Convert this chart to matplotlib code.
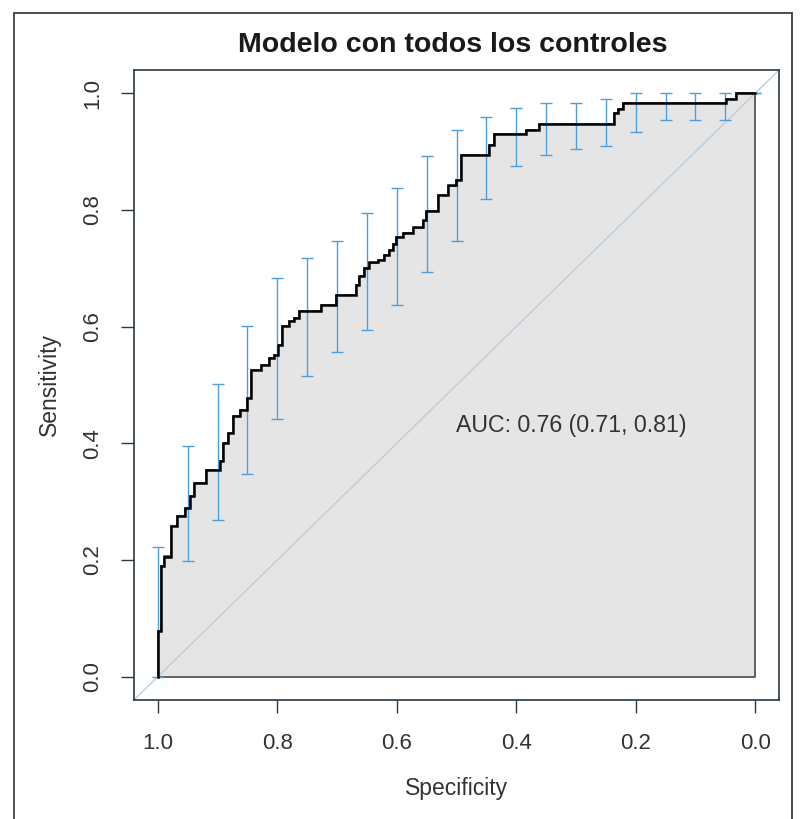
import matplotlib
matplotlib.use("Agg")
import matplotlib.pyplot as plt
from matplotlib.patches import Rectangle

plt.rcParams['font.family'] = ['Liberation Sans', 'DejaVu Sans']

# ROC staircase: specificity where each rise happens and sensitivity after it
roc_spec = [1.000, 1.000, 0.995, 0.990, 0.978, 0.968, 0.955, 0.946, 0.940, 0.920,
            0.896, 0.891, 0.883, 0.874, 0.863, 0.851, 0.844, 0.827, 0.814, 0.806,
            0.799, 0.792, 0.781, 0.772, 0.764, 0.727, 0.702, 0.668, 0.663, 0.655,
            0.647, 0.631, 0.621, 0.613, 0.606, 0.601, 0.590, 0.573, 0.556, 0.551,
            0.531, 0.514, 0.501, 0.492, 0.446, 0.437, 0.384, 0.362, 0.236, 0.229,
            0.221, 0.049, 0.032, 0.000]
roc_sens = [0.000, 0.079, 0.189, 0.206, 0.258, 0.275, 0.290, 0.309, 0.332, 0.354,
            0.369, 0.400, 0.418, 0.447, 0.457, 0.478, 0.526, 0.534, 0.546, 0.552,
            0.569, 0.601, 0.610, 0.615, 0.627, 0.637, 0.655, 0.672, 0.687, 0.701,
            0.710, 0.715, 0.723, 0.732, 0.741, 0.753, 0.761, 0.770, 0.782, 0.799,
            0.825, 0.842, 0.851, 0.895, 0.912, 0.930, 0.938, 0.948, 0.967, 0.973,
            0.983, 0.991, 1.000, 1.000]

# Confidence intervals of sensitivity at fixed specificities
ci_spec = [1.00, 0.95, 0.90, 0.85, 0.80, 0.75, 0.70, 0.65, 0.60, 0.55, 0.50,
           0.45, 0.40, 0.35, 0.30, 0.25, 0.20, 0.15, 0.10, 0.05, 0.00]
ci_low = [0.000, 0.198, 0.268, 0.347, 0.442, 0.515, 0.557, 0.595, 0.637, 0.694, 0.747,
          0.818, 0.875, 0.895, 0.904, 0.909, 0.933, 0.954, 0.954, 0.955, 1.000]
ci_high = [0.223, 0.395, 0.502, 0.601, 0.684, 0.718, 0.747, 0.794, 0.838, 0.892, 0.938,
           0.960, 0.974, 0.983, 0.983, 0.991, 1.000, 1.000, 1.000, 1.000, 1.000]

ticks = [1.0, 0.8, 0.6, 0.4, 0.2, 0.0]
tick_labels = ["1.0", "0.8", "0.6", "0.4", "0.2", "0.0"]
yticks = [0.0, 0.2, 0.4, 0.6, 0.8, 1.0]
ytick_labels = ["0.0", "0.2", "0.4", "0.6", "0.8", "1.0"]

title = "Modelo con todos los controles"
auc_text = "AUC: 0.76 (0.71, 0.81)"

W, H = 810, 819
fig = plt.figure(figsize=(W / 100, H / 100), dpi=100)
ax = fig.add_axes([134 / W, 1 - 700 / H, (779 - 134) / W, (700 - 70) / H])
ax.set_xlim(1.04, -0.04)
ax.set_ylim(-0.04, 1.04)

text_col = '#333333'
line_col = '#2b3a44'

# AUC polygon
ax.fill_between(roc_spec, roc_sens, 0, step='post', facecolor='#e6e5e5',
                edgecolor='#555555', linewidth=1.3, zorder=1)
# identity line
ax.axline((1, 0), (0, 1), color='#b7cad9', linewidth=0.9, zorder=2)
# CI bars
mid = [(a + b) / 2 for a, b in zip(ci_low, ci_high)]
err = [[m - a for m, a in zip(mid, ci_low)], [b - m for m, b in zip(mid, ci_high)]]
ax.errorbar(ci_spec, mid, yerr=err, fmt='none', ecolor='#4a9fe0', elinewidth=1.0,
            capsize=4.5, capthick=1.0, zorder=3)
# ROC curve
ax.plot(roc_spec, roc_sens, drawstyle='steps-post', color='black', linewidth=1.8,
        zorder=4, solid_joinstyle='miter')

ax.text(0.5, 0.43, auc_text, ha='left', va='center', fontsize=16.7, color=text_col, zorder=5)

ax.set_xticks(ticks)
ax.set_xticklabels(tick_labels)
ax.set_yticks(yticks)
ax.set_yticklabels(ytick_labels)
ax.tick_params(axis='both', length=9.5, width=1.0, color=line_col, labelsize=16,
               labelcolor=text_col, direction='out')
ax.tick_params(axis='x', pad=14)
ax.tick_params(axis='y', pad=13)
plt.setp(ax.get_yticklabels(), rotation=90, va='center')
for s in ax.spines.values():
    s.set_color(line_col)
    s.set_linewidth(1.2)

ax.set_xlabel("Specificity", fontsize=16.5, color=text_col, labelpad=17)
ax.set_ylabel("Sensitivity", fontsize=16.5, color=text_col, labelpad=15)

fig.text(453 / W, 1 - 45 / H, title, ha='center', va='center', fontsize=20.5,
         fontweight='bold', color='#1a1a1a')

fig.patches.append(Rectangle((14 / W, -0.05), (792 - 14) / W, (1 - 13 / H) + 0.05,
                             transform=fig.transFigure, fill=False,
                             edgecolor='#404040', linewidth=1.3))

fig.savefig("out.png", dpi=100)
